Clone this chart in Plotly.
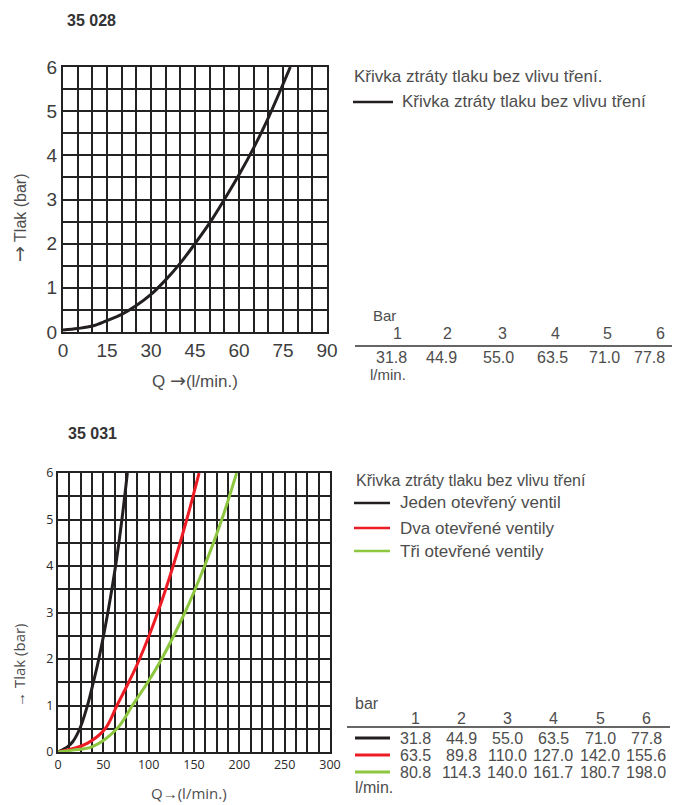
import plotly.graph_objects as go

# ---------------- data ----------------
# Chart 35 028
top_q = [0, 5, 10, 15, 20, 25, 30, 35, 40, 45, 50, 55, 60, 65, 70, 77.5]
top_p = [0.045, 0.08, 0.135, 0.26, 0.4, 0.6, 0.85, 1.18, 1.56, 2.0, 2.47, 3.0, 3.56, 4.17, 4.85, 6]

# Chart 35 031
black_q = [0, 10.7, 16.2, 24, 32.5, 39, 45, 55, 63.5, 70.5, 76.5]
black_p = [0, 0.115, 0.22, 0.5, 1, 1.5, 2, 3, 4, 5, 6]
red_q = [0, 18, 32.7, 52, 65, 78, 90, 110, 127, 142, 155.6]
red_p = [0, 0.08, 0.19, 0.5, 1, 1.5, 2, 3, 4, 5, 6]
green_q = [0, 16, 38, 65, 82, 99, 114.3, 140, 161.7, 180.7, 197]
green_p = [0, 0.04, 0.115, 0.5, 1, 1.5, 2, 3, 4, 5, 6]

# Tables
bar_levels = ["1", "2", "3", "4", "5", "6"]
top_table = ["31.8", "44.9", "55.0", "63.5", "71.0", "77.8"]
bot_table_black = ["31.8", "44.9", "55.0", "63.5", "71.0", "77.8"]
bot_table_red = ["63.5", "89.8", "110.0", "127.0", "142.0", "155.6"]
bot_table_green = ["80.8", "114.3", "140.0", "161.7", "180.7", "198.0"]

top_title = "35 028"
bot_title = "35 031"
top_legend_title = "Křivka ztráty tlaku bez vlivu tření."
top_series_name = "Křivka ztráty tlaku bez vlivu tření"
bot_legend_title = "Křivka ztráty tlaku bez vlivu tření"
bot_series_names = ["Jeden otevřený ventil", "Dva otevřené ventily", "Tři otevřené ventily"]

# ---------------- style ----------------
OFF = 8                      # page body margin
W, H = 680 - OFF, 805 - OFF  # figure size so it ends at the window edge
BLACK = "#231f20"
RED = "#ed1c24"
GREEN = "#8dc63f"
TXT = "#4d4d4d"
GRID = "#222222"
SANS = "Liberation Sans"
OPEN = "Open Sans"
BIG_ARROW = '<span style="font-family:DejaVu Sans;font-size:19px">→</span>'
bot_colors = [BLACK, RED, GREEN]


def px(x):
    return (x - OFF) / W


def py(y):
    return 1 - (y - OFF) / H


fig = go.Figure()

fig.add_trace(go.Scatter(x=top_q, y=top_p, mode="lines", name=top_series_name,
                         line=dict(color=BLACK, width=3, shape="spline", smoothing=1),
                         xaxis="x", yaxis="y", showlegend=False))
for q, p, c, n in zip([black_q, red_q, green_q], [black_p, red_p, green_p],
                      bot_colors, bot_series_names):
    fig.add_trace(go.Scatter(x=q, y=p, mode="lines", name=n,
                             line=dict(color=c, width=3, shape="spline", smoothing=1),
                             xaxis="x2", yaxis="y2", showlegend=False))


def axis(domain, rng, dtick, minor, font, anchor):
    return dict(domain=domain, range=rng, dtick=dtick, tick0=0, anchor=anchor,
                automargin=False,
                showgrid=True, gridcolor=GRID, gridwidth=1.5,
                minor=dict(dtick=minor, tick0=0, showgrid=True, gridcolor=GRID, gridwidth=1.5),
                showline=True, linecolor=GRID, linewidth=2, mirror=True,
                zeroline=False, ticks="", tickfont=font, fixedrange=True)


top_font = dict(family=SANS, size=19, color="#3d3d3d")
bot_font = dict(family=OPEN, size=12.5, color="#2a2a2a")

fig.update_layout(
    width=W, height=H, margin=dict(l=0, r=0, t=0, b=0, autoexpand=False),
    paper_bgcolor="white", plot_bgcolor="white", showlegend=False,
    xaxis=axis([px(63), px(327)], [0, 90], 15, 5, top_font, "y"),
    yaxis=axis([py(332), py(67)], [0, 6], 1, 0.5, top_font, "x"),
    xaxis2=axis([px(58), px(330)], [0, 300], 50, 12.5, bot_font, "y2"),
    yaxis2=axis([py(752), py(473)], [0, 6], 1, 0.5, bot_font, "x2"),
)

ann = []
shapes = []


def text(x, y, s, size, family=SANS, color=TXT, xanchor="left", weight=400, angle=0,
         yanchor="middle"):
    ann.append(dict(x=px(x), y=py(y), xref="paper", yref="paper", text=s, showarrow=False,
                    xanchor=xanchor, yanchor=yanchor, textangle=angle,
                    font=dict(family=family, size=size, color=color, weight=weight)))


def hline(x0, x1, y, color, width):
    shapes.append(dict(type="line", xref="paper", yref="paper", x0=px(x0), x1=px(x1),
                       y0=py(y), y1=py(y), line=dict(color=color, width=width)))


# titles
text(65, 21, top_title, 16, color="#333333", weight=700)
text(66, 433, bot_title, 16, color="#333333", weight=700)

# axis titles
text(19, 218, BIG_ARROW + " Tlak (bar)", 16, xanchor="center", angle=-90)
text(195, 380, "Q " + BIG_ARROW + "(l/min.)", 17, xanchor="center")
text(19, 665, "→ Tlak (bar)", 15, family=OPEN, xanchor="center", angle=-90)
text(189, 805, "Q→(l/min.)", 15, family=OPEN, xanchor="center", yanchor="bottom")

# top legend
text(352, 76, top_legend_title, 17)
hline(353, 393, 102, BLACK, 2.5)
text(400, 102, top_series_name, 17)

# top table
text(371, 315, "Bar", 15)
top_head_x = [397, 447, 502, 555, 607, 660]
top_val_x = [391, 441, 498, 552, 604, 649]
for hx, vx, h, v in zip(top_head_x, top_val_x, bar_levels, top_table):
    text(hx, 333, h, 16, xanchor="center")
    text(vx, 357, v, 16, xanchor="center")
hline(355, 677, 346, "#333333", 1.5)
text(368, 374, "l/min.", 15)

# bottom legend
text(354, 480, bot_legend_title, 16)
for yy, c, n in zip([503, 528, 551], bot_colors, bot_series_names):
    hline(354, 390, yy, c, 2.5)
    text(398, yy, n, 17)

# bottom table
text(353, 703, "bar", 16)
bot_col_x = [415, 461, 507, 553, 600, 646]
for cx, h in zip(bot_col_x, bar_levels):
    text(cx, 718, h, 16, xanchor="center")
hline(347, 670, 727, "#333333", 1.5)
for yy, c, row in zip([738, 755, 772], bot_colors,
                      [bot_table_black, bot_table_red, bot_table_green]):
    hline(355, 390, yy, c, 3)
    for cx, v in zip(bot_col_x, row):
        text(cx, yy, v, 16, xanchor="center")
text(353, 787, "l/min.", 16)

fig.update_layout(annotations=ann, shapes=shapes)
fig.write_html("out.html")
